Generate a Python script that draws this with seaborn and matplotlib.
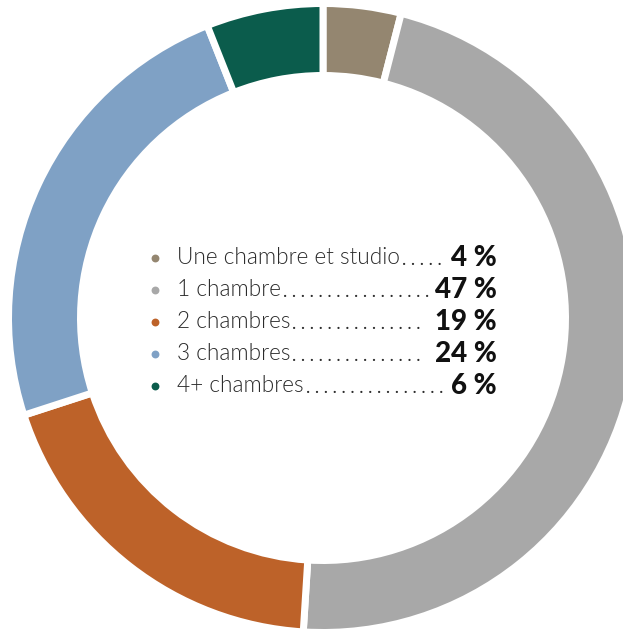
import matplotlib
matplotlib.use("Agg")
import matplotlib.pyplot as plt
import seaborn as sns

categories = ["Une chambre et studio", "1 chambre", "2 chambres", "3 chambres", "4+ chambres"]
values = [4, 47, 19, 24, 6]
value_labels = ["4 %", "47 %", "19 %", "24 %", "6 %"]
colors = ["#948670", "#A8A8A8", "#BD6229", "#7FA1C5", "#0B5C4C"]

sns.set_theme(style="white")
plt.rcParams["font.family"] = ["Lato", "DejaVu Sans"]

W, H = 623, 629
fig = plt.figure(figsize=(W / 100, H / 100), dpi=100)
ax = fig.add_axes([0, 0, 1, 1])

cx, cy = 323, H - 318
lw_px = 7
R = 311 + lw_px / 2
width = 65 + lw_px
ax.pie(values, colors=colors, startangle=90, counterclock=False,
       center=(cx, cy), radius=R, frame=True,
       wedgeprops=dict(width=width, edgecolor="white", linewidth=lw_px * 0.72))
ax.set_xlim(0, W)
ax.set_ylim(0, H)
ax.set_aspect("equal")
ax.axis("off")

fig.canvas.draw()
renderer = fig.canvas.get_renderer()
inv = ax.transData.inverted()

x_dot, x_lab, x_right = 155, 177, 497
row0, step = 258, 32
fs = 16.3
probe = ax.text(0, 0, ". " * 10, fontsize=13, color="#333333")
pw = probe.get_window_extent(renderer).width / 10
probe.remove()
for i, (cat, lab, col) in enumerate(zip(categories, value_labels, colors)):
    y = H - (row0 + i * step)
    ax.scatter([x_dot], [y], s=32, color=col, zorder=5, linewidths=0)
    t1 = ax.text(x_lab, y, cat, fontsize=fs, fontweight=300, color="#2b2b2b",
                 va="center", ha="left")
    t2 = ax.text(x_right, y, lab, fontsize=20, fontweight=900, color="#111111",
                 va="center", ha="right")
    b1 = t1.get_window_extent(renderer)
    b2 = t2.get_window_extent(renderer)
    x0 = inv.transform((b1.x1, 0))[0] + 2
    x1 = inv.transform((b2.x0, 0))[0] - 1
    n = max(int((x1 - x0) / pw), 0)
    ax.text(x0, y - 7, (". " * n).rstrip(), fontsize=13, color="#2b2b2b",
            va="baseline", ha="left")

fig.savefig("out.png", dpi=100)
